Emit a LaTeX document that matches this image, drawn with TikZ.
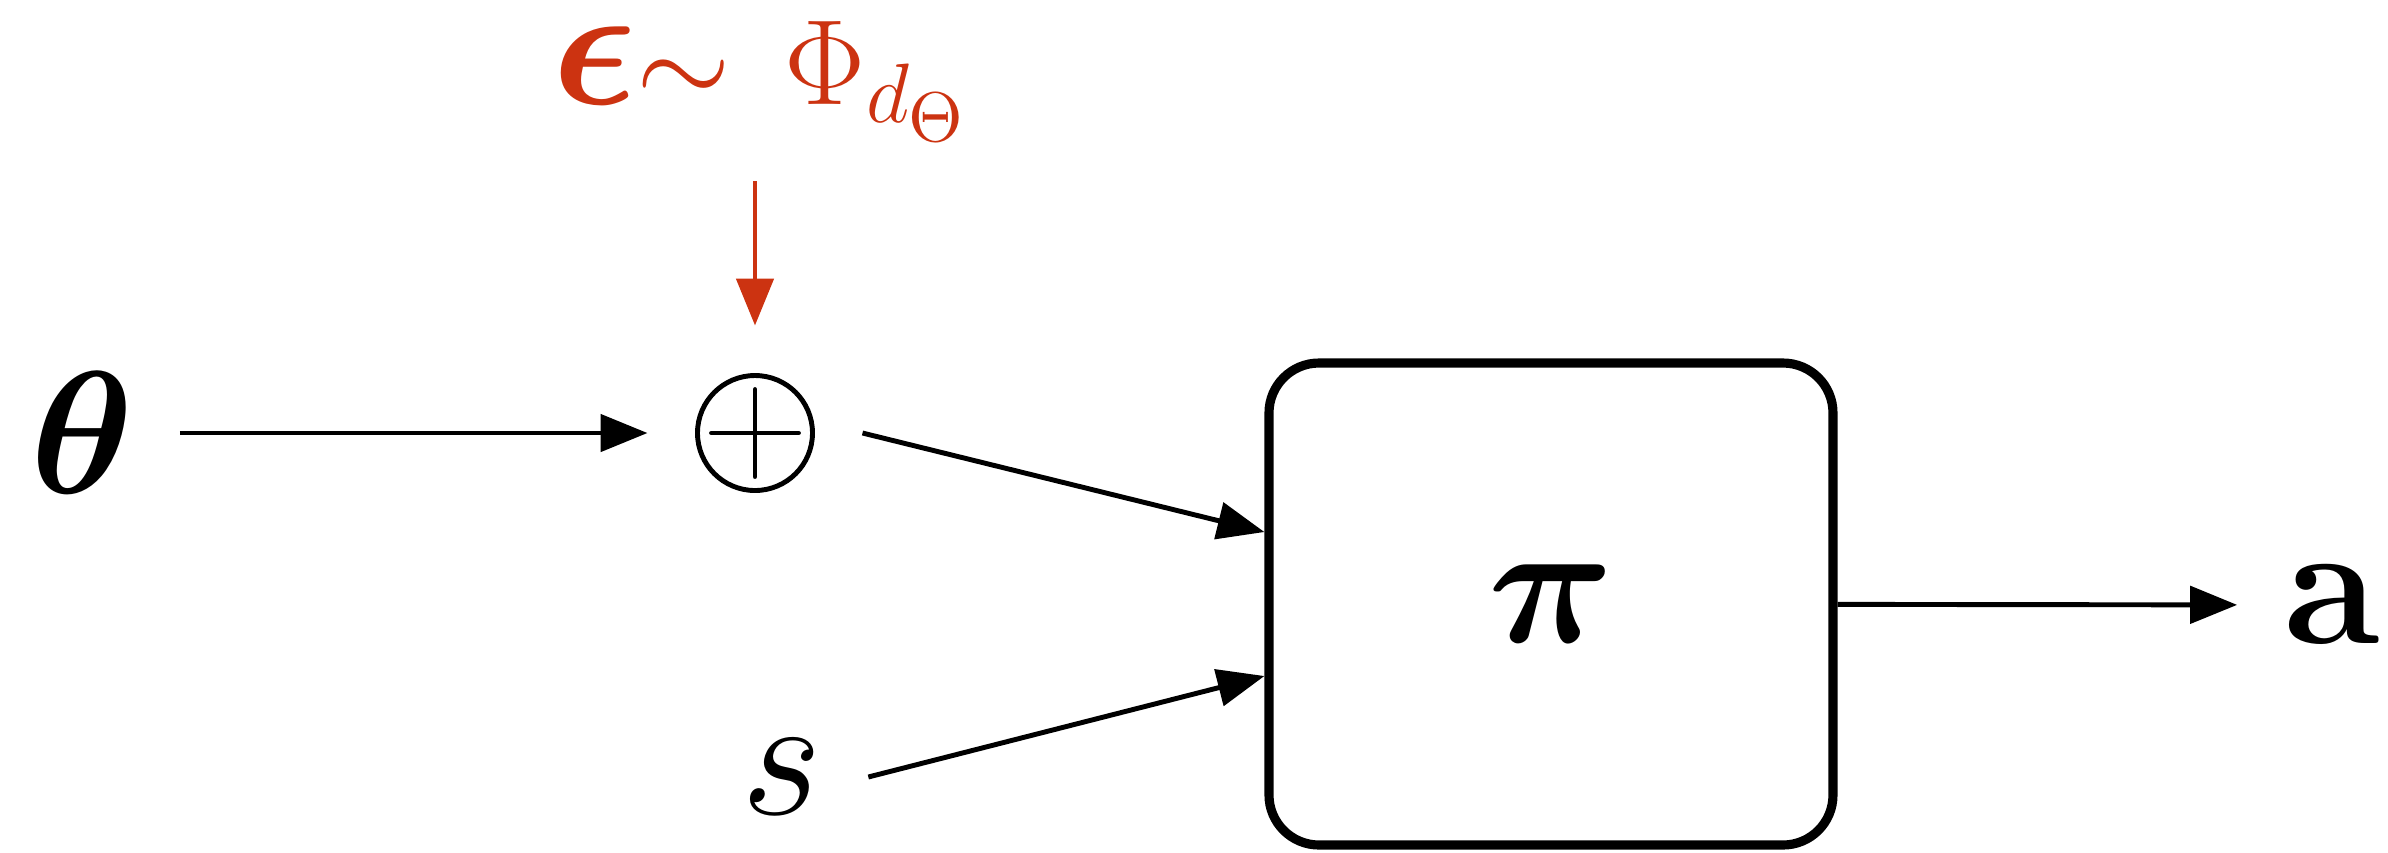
\documentclass[tikz,border=0pt]{standalone}
\usepackage{amsmath, amssymb}
\usepackage[dvipsnames]{xcolor}
\usepackage{tikz}
\usetikzlibrary{arrows.meta, positioning, calc}
\definecolor{noisered}{RGB}{204,51,17}

\begin{document}
\begin{tikzpicture}[
    var/.style={inner sep=0pt, outer sep=0.23cm, font=\Huge},
    arr/.style={line width=0.7pt, -{Triangle[length=2.35mm, width=1.85mm]}},
  ]
  \useasboundingbox (0,0) rectangle (11.94,4.26);

  % === Entrées (gauche) ===
  \node[var] (theta) at (0.41,2.095) {$\boldsymbol{\theta}$};
  \node[var] (state) at (3.91,0.375) {$s$};

  % somme : cercle et croix
  \node[draw, circle, line width=0.7pt, inner sep=0pt, minimum size=0.575cm, outer sep=0.25cm] (plus) at (3.775,2.095) {};
  \draw[line width=0.7pt, line cap=round] (plus.center) +(-0.2175,0) -- +(0.2175,0) +(0,-0.2175) -- +(0,0.2175);

  % bruit ajouté aux paramètres
  \node[inner sep=0pt, outer sep=0.2cm, anchor=base west, text=noisered] (noise) at (2.56,3.74)
    {\Huge$\boldsymbol{\epsilon}$\LARGE$\sim\, \Phi_{d_\Theta}$};

  % === Politique (droite) ===
  \node[draw, line width=1.3pt, rounded corners=0.25cm, minimum width=2.82cm, minimum height=2.41cm] (policy) at (7.755,1.24)
    {\Huge$\boldsymbol{\pi}$};
  \node[var] (action) at (11.655,1.235) {$\mathbf{a}$};

  % === Flèches ===
  \draw[arr] (theta) -- (plus);
  \draw[arr, noisered] (noise.south -| plus) -- (plus);
  \draw[arr] (plus.east) -- ($(policy.west)+(0,0.36)$);
  \draw[arr] (state.east) -- ($(policy.west)+(0,-0.36)$);
  \draw[arr] (policy) -- (action);
\end{tikzpicture}
\end{document}
